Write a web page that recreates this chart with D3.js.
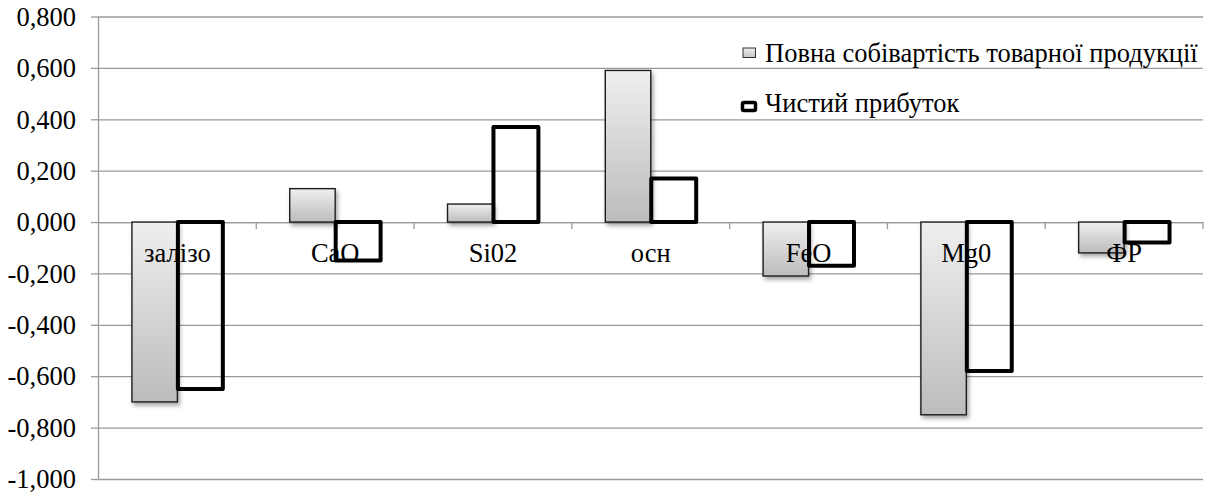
<!DOCTYPE html>
<html>
<head>
<meta charset="utf-8">
<script src="https://cdn.jsdelivr.net/npm/d3@7"></script>
<style>
  html, body { margin: 0; padding: 0; background: #fff; }
  svg { display: block; }
  svg text { font-family: "Liberation Serif", "Times New Roman", serif; fill: #000; }
</style>
</head>
<body>
<svg id="chart" width="1206" height="493"></svg>
<script>
const categories = ["залізо", "CaO", "Si02", "осн", "FeO", "Mg0", "ФР"];
const costValues = [-0.70, 0.13, 0.07, 0.59, -0.21, -0.75, -0.12];
const profitValues = [-0.65, -0.15, 0.37, 0.17, -0.17, -0.58, -0.08];
const seriesNames = ["Повна собівартість товарної продукції", "Чистий прибуток"];
const yTicks = [-1.0, -0.8, -0.6, -0.4, -0.2, 0.0, 0.2, 0.4, 0.6, 0.8];

const FONT = "'Liberation Serif', 'Times New Roman', serif";
const FS = "26.5px";

const svg = d3.select("#chart");
const plot = { left: 98.5, right: 1203, top: 16.5, bottom: 479 };

const x = d3.scaleBand().domain(categories).range([plot.left, plot.right]).paddingInner(0).paddingOuter(0);
const y = d3.scaleLinear().domain([-1, 0.8]).range([plot.bottom, plot.top]);
const barW = x.bandwidth() * 0.288;

const defs = svg.append("defs");
const grad = defs.append("linearGradient").attr("id", "grayGrad")
  .attr("x1", 0).attr("y1", 0).attr("x2", 0).attr("y2", 1);
grad.append("stop").attr("offset", "0%").attr("stop-color", "#efefef");
grad.append("stop").attr("offset", "100%").attr("stop-color", "#bcbcbc");
const legGrad = defs.append("linearGradient").attr("id", "legGrad")
  .attr("x1", 0).attr("y1", 0).attr("x2", 0).attr("y2", 1);
legGrad.append("stop").attr("offset", "0%").attr("stop-color", "#efefef");
legGrad.append("stop").attr("offset", "100%").attr("stop-color", "#c4c4c4");
const shadow = defs.append("filter").attr("id", "shadow")
  .attr("x", "-20%").attr("y", "-20%").attr("width", "160%").attr("height", "160%");
shadow.append("feDropShadow").attr("dx", 2).attr("dy", 3).attr("stdDeviation", 2.2)
  .attr("flood-color", "#000").attr("flood-opacity", 0.35);

// Gridlines + y ticks
const yAxis = d3.axisLeft(y).tickValues(yTicks)
  .tickSize(-(plot.right - plot.left))
  .tickFormat(d => d3.format(".3f")(d).replace("−", "-").replace(".", ","));
const gy = svg.append("g").attr("transform", `translate(${plot.left},0)`).call(yAxis);
gy.attr("font-family", FONT).attr("font-size", FS);
gy.select(".domain").remove();
gy.selectAll(".tick line").attr("stroke", "#9a9a9a").attr("stroke-width", 1.3);
gy.selectAll(".tick").append("line")
  .attr("x1", -7.5).attr("x2", 0).attr("stroke", "#9a9a9a").attr("stroke-width", 1.3);
gy.selectAll(".tick text").attr("x", -22.5).attr("dy", "0.33em")
  .attr("font-family", FONT).attr("font-size", FS).attr("fill", "#000");

// vertical axis line
svg.append("line").attr("x1", plot.left).attr("x2", plot.left)
  .attr("y1", plot.top).attr("y2", plot.bottom)
  .attr("stroke", "#9a9a9a").attr("stroke-width", 1.3);

// category axis at zero with tick marks
const gx = svg.append("g").attr("transform", `translate(0,${y(0)})`)
  .call(d3.axisBottom(x).tickSize(0).tickFormat(""));
gx.select(".domain").attr("stroke", "#9a9a9a").attr("stroke-width", 1.3);
gx.selectAll(".tick").remove();
const boundaries = categories.map(c => x(c) + x.bandwidth());
gx.selectAll(".ctick").data(boundaries).enter().append("line")
  .attr("x1", d => d).attr("x2", d => d).attr("y1", 0).attr("y2", 7)
  .attr("stroke", "#9a9a9a").attr("stroke-width", 1.3);

// Gray bars
const cx = c => x(c) + x.bandwidth() / 2;
svg.append("g").selectAll("rect").data(categories).enter().append("rect")
  .attr("x", c => cx(c) - barW)
  .attr("width", barW)
  .attr("y", (c, i) => y(Math.max(0, costValues[i])))
  .attr("height", (c, i) => Math.abs(y(costValues[i]) - y(0)))
  .attr("fill", "url(#grayGrad)")
  .attr("stroke", "#1e1e1e").attr("stroke-width", 1.4)
  .attr("filter", "url(#shadow)");

// Category labels
svg.append("g").selectAll("text").data(categories).enter().append("text")
  .attr("x", c => cx(c)).attr("y", 262)
  .attr("text-anchor", "middle")
  .attr("font-family", FONT).attr("font-size", FS)
  .text(c => c);

// Black-outlined bars
svg.append("g").selectAll("rect").data(categories).enter().append("rect")
  .attr("x", c => cx(c) + 0.5)
  .attr("width", barW - 0.5)
  .attr("y", (c, i) => y(Math.max(0, profitValues[i])))
  .attr("height", (c, i) => Math.abs(y(profitValues[i]) - y(0)))
  .attr("fill", "none")
  .attr("stroke", "#000").attr("stroke-width", 4).attr("stroke-linejoin", "round");

// Legend
const leg = svg.append("g").attr("font-family", FONT).attr("font-size", FS);
leg.append("rect").attr("x", 743).attr("y", 48).attr("width", 12.5).attr("height", 9.5)
  .attr("fill", "url(#legGrad)").attr("stroke", "#333").attr("stroke-width", 1);
leg.append("text").attr("x", 765).attr("y", 62).text(seriesNames[0]);
leg.append("rect").attr("x", 742.5).attr("y", 102.5).attr("width", 13).attr("height", 8)
  .attr("fill", "#fff").attr("stroke", "#000").attr("stroke-width", 3.5)
  .attr("rx", 1.5).attr("stroke-linejoin", "round");
leg.append("text").attr("x", 765).attr("y", 112).text(seriesNames[1]);
</script>
</body>
</html>
